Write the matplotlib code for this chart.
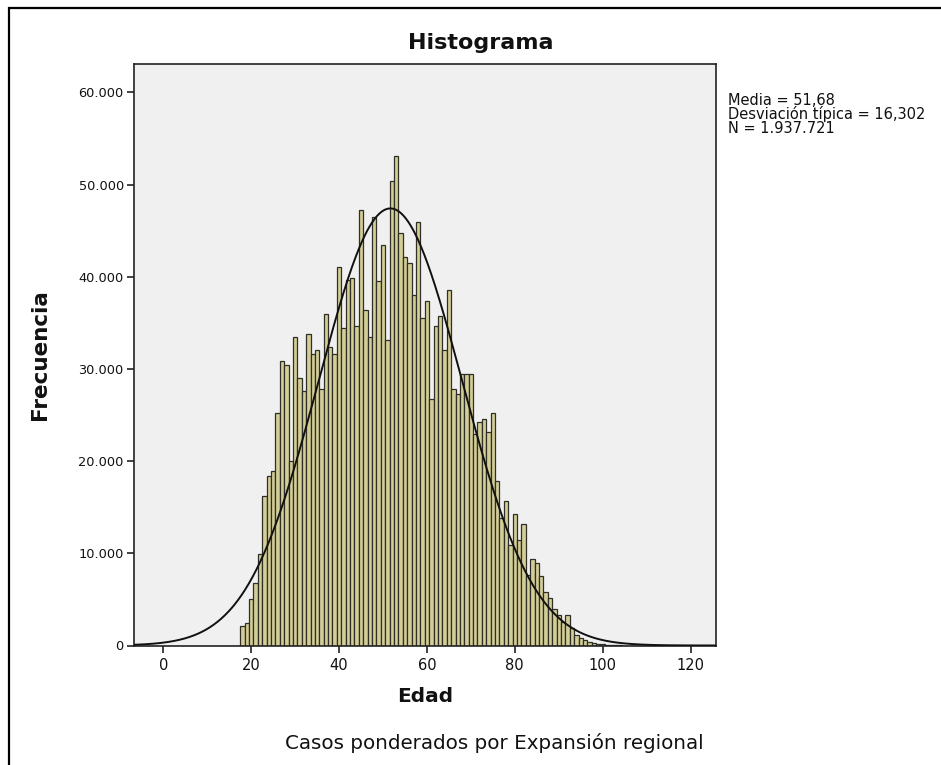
import numpy as np
import matplotlib
matplotlib.use("Agg")
import matplotlib.pyplot as plt
from matplotlib.patches import Rectangle
from matplotlib.ticker import FuncFormatter, FixedLocator

# ---- data ----
ages = list(range(18, 105))
counts_k = [
    2.1, 2.4, 5.0, 6.8, 9.9, 16.2, 18.4, 18.9, 25.2, 30.9,      # 18-27
    30.4, 20.0, 33.5, 29.0, 27.6, 33.8, 31.6, 32.1, 27.8, 36.0,  # 28-37
    32.4, 31.6, 41.1, 34.5, 39.7, 39.9, 34.7, 47.2, 36.4, 33.5,  # 38-47
    46.5, 39.5, 43.5, 33.1, 50.4, 53.1, 44.8, 42.1, 41.5, 38.0,  # 48-57
    46.0, 35.5, 37.4, 26.7, 34.7, 35.7, 32.1, 38.6, 27.8, 27.3,  # 58-67
    29.5, 29.5, 29.5, 23.0, 24.2, 24.6, 23.2, 25.2, 17.8, 13.8,  # 68-77
    15.7, 10.9, 14.3, 11.4, 13.2, 7.6, 9.4, 8.9, 7.5, 5.8,       # 78-87
    5.1, 4.0, 3.3, 2.5, 3.3, 1.9, 1.1, 0.8, 0.6, 0.35,           # 88-97
    0.25, 0.2, 0.15, 0.08, 0.05, 0.03, 0.02,                     # 98-104
]
counts = [c * 1000 for c in counts_k]

mean = 51.68
sd = 16.302
n_total = 1937721

x_ticks = [0, 20, 40, 60, 80, 100, 120]
y_ticks = [0, 10000, 20000, 30000, 40000, 50000, 60000]
title = "Histograma"
xlabel = "Edad"
ylabel = "Frecuencia"
footnote = "Casos ponderados por Expansión regional"
stats_lines = ["Media = 51,68", "Desviación típica = 16,302", "N = 1.937.721"]

# ---- figure ----
W, H = 941, 765
fig = plt.figure(figsize=(W / 100, H / 100), dpi=100)
fig.patch.set_facecolor("white")

ax_l, ax_r, ax_t, ax_b = 133.5, 716, 64, 645.5
ax = fig.add_axes([ax_l / W, 1 - ax_b / H, (ax_r - ax_l) / W, (ax_b - ax_t) / H])
ax.set_facecolor("#F0F0F0")

ax.bar(ages, counts, width=1.0, color="#D3CD96", edgecolor="#2f2f28",
       linewidth=0.9, zorder=2)

xs = np.linspace(-10, 130, 800)
pdf = n_total / (sd * np.sqrt(2 * np.pi)) * np.exp(-0.5 * ((xs - mean) / sd) ** 2)
ax.plot(xs, pdf, color="#111111", linewidth=1.4, zorder=3)

ax.set_xlim(-6.8, 125.8)
ax.set_ylim(0, 63090)
ax.xaxis.set_major_locator(FixedLocator(x_ticks))
ax.yaxis.set_major_locator(FixedLocator(y_ticks))
ax.yaxis.set_major_formatter(FuncFormatter(lambda v, p: f"{int(round(v)):,}".replace(",", ".")))
ax.tick_params(axis="both", direction="out", length=5, width=1.2, color="#222222",
               labelcolor="#111111")
ax.tick_params(axis="y", labelsize=9.3, pad=2)
ax.tick_params(axis="x", labelsize=10.5, pad=4)
for s in ax.spines.values():
    s.set_color("#222222")
    s.set_linewidth(1.2)

fig.text(481 / W, 1 - 43 / H, title, ha="center", va="center",
         fontsize=16, fontweight="bold", color="#111111")
fig.text(40 / W, 1 - 355 / H, ylabel, ha="center", va="center", rotation=90,
         fontsize=15.5, fontweight="bold", color="#111111")
fig.text(425 / W, 1 - 697 / H, xlabel, ha="center", va="center",
         fontsize=14.5, fontweight="bold", color="#111111")
fig.text(494 / W, 1 - 743 / H, footnote, ha="center", va="center",
         fontsize=14.3, color="#111111")
fig.text(728 / W, 1 - 93 / H, "\n".join(stats_lines), ha="left", va="top",
         fontsize=10.5, color="#111111", linespacing=0.88)

fig.add_artist(Rectangle((8.5 / W, -0.1), 1.2, 1.1 - 8.5 / H, transform=fig.transFigure,
                         fill=False, edgecolor="black", linewidth=1.6, clip_on=False))

fig.savefig("out.png", dpi=100)
